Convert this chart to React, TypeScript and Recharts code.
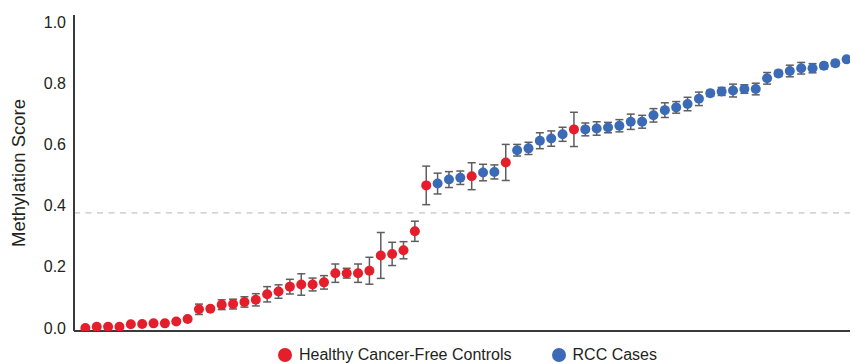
import React from 'react';
import {
  ScatterChart,
  Scatter,
  XAxis,
  YAxis,
  ErrorBar,
  ReferenceLine,
  Legend,
} from 'recharts';

// Samples ordered by methylation score (left to right)
const scores = [
  0.0, 0.004, 0.004, 0.004, 0.012, 0.013, 0.015, 0.015, 0.021, 0.029,
  0.061, 0.063, 0.076, 0.078, 0.085, 0.092, 0.11, 0.119, 0.135, 0.142,
  0.142, 0.149, 0.179, 0.179, 0.179, 0.187, 0.237, 0.242, 0.254, 0.316,
  0.466, 0.472, 0.485, 0.491, 0.496, 0.508, 0.51, 0.541, 0.581, 0.587,
  0.612, 0.619, 0.633, 0.649, 0.649, 0.652, 0.655, 0.661, 0.674, 0.674,
  0.695, 0.712, 0.721, 0.732, 0.749, 0.767, 0.773, 0.776, 0.781, 0.781,
  0.816, 0.832, 0.84, 0.849, 0.849, 0.857, 0.865, 0.878,
];

const errors = [
  0, 0, 0, 0, 0, 0, 0, 0, 0, 0,
  0.017, 0.006, 0.016, 0.016, 0.017, 0.02, 0.025, 0.022, 0.024, 0.035,
  0.021, 0.022, 0.03, 0.016, 0.03, 0.044, 0.075, 0.038, 0.028, 0.033,
  0.063, 0.034, 0.026, 0.022, 0.044, 0.027, 0.023, 0.059, 0.019, 0.02,
  0.026, 0.025, 0.023, 0.056, 0.021, 0.022, 0.017, 0.02, 0.025, 0.021,
  0.022, 0.024, 0.019, 0.022, 0.022, 0.01, 0.013, 0.021, 0.014, 0.019,
  0.019, 0.01, 0.019, 0.019, 0.015, 0.01, 0.01, 0,
];

// H = Healthy Cancer-Free Controls, R = RCC Cases
const groups = [
  'H', 'H', 'H', 'H', 'H', 'H', 'H', 'H', 'H', 'H',
  'H', 'H', 'H', 'H', 'H', 'H', 'H', 'H', 'H', 'H',
  'H', 'H', 'H', 'H', 'H', 'H', 'H', 'H', 'H', 'H',
  'H', 'R', 'R', 'R', 'H', 'R', 'R', 'H', 'R', 'R',
  'R', 'R', 'R', 'H', 'R', 'R', 'R', 'R', 'R', 'R',
  'R', 'R', 'R', 'R', 'R', 'R', 'R', 'R', 'R', 'R',
  'R', 'R', 'R', 'R', 'R', 'R', 'R', 'R',
];

const seriesNames = { H: 'Healthy Cancer-Free Controls', R: 'RCC Cases' };
const seriesColors = { H: '#e41e2b', R: '#3b6bb6' };
const yTicks = [0, 0.2, 0.4, 0.6, 0.8, 1.0];
const threshold = 0.376;

const rows = scores.map((v, i) => ({
  idx: i + 1,
  score: v,
  err: errors[i],
  group: groups[i],
}));
const healthy = rows.filter((r) => r.group === 'H');
const rcc = rows.filter((r) => r.group === 'R');

const dot = (color: string) => (props: any) => (
  <circle cx={props.cx} cy={props.cy} r={5} fill={color} />
);

const renderLegend = () => (
  <div
    style={{
      display: 'flex',
      alignItems: 'center',
      height: 18,
      paddingLeft: 270,
      fontSize: 16,
      color: '#231f20',
      whiteSpace: 'nowrap',
    }}
  >
    <span
      style={{
        width: 14,
        height: 14,
        borderRadius: '50%',
        background: seriesColors.H,
        marginRight: 7,
        display: 'inline-block',
      }}
    />
    <span>{seriesNames.H}</span>
    <span
      style={{
        width: 14,
        height: 14,
        borderRadius: '50%',
        background: seriesColors.R,
        marginLeft: 40,
        marginRight: 7,
        display: 'inline-block',
      }}
    />
    <span>{seriesNames.R}</span>
  </div>
);

export default function App() {
  return (
    <div style={{ fontFamily: '"Liberation Sans", Arial, Helvetica, sans-serif' }}>
      <ScatterChart
        width={850}
        height={356}
        margin={{ top: 7, right: 0, left: 0, bottom: 0 }}
      >
        <XAxis
          type="number"
          dataKey="idx"
          domain={[0, 69]}
          allowDataOverflow
          tick={false}
          tickLine={false}
          axisLine={{ stroke: '#3a3a3a', strokeWidth: 2 }}
          height={15}
        />
        <YAxis
          type="number"
          dataKey="score"
          domain={[-0.01, 1.023]}
          allowDataOverflow
          ticks={yTicks}
          tickFormatter={(v: number) => v.toFixed(1)}
          tickLine={false}
          axisLine={{ stroke: '#3a3a3a', strokeWidth: 2 }}
          tick={{ fill: '#231f20', fontSize: 16 }}
          width={66}
          label={{
            value: 'Methylation Score',
            angle: -90,
            position: 'insideLeft',
            offset: 10,
            style: { textAnchor: 'middle', fill: '#231f20', fontSize: 18.5 },
          }}
        />
        <ReferenceLine
          y={threshold}
          stroke="#c4c4c4"
          strokeWidth={1.3}
          strokeDasharray="6 5.5"
        />
        <Scatter
          name={seriesNames.H}
          data={healthy}
          fill={seriesColors.H}
          shape={dot(seriesColors.H)}
          isAnimationActive={false}
        >
          <ErrorBar dataKey="err" direction="y" width={4} stroke="#5e5e5e" strokeWidth={1.5} />
        </Scatter>
        <Scatter
          name={seriesNames.R}
          data={rcc}
          fill={seriesColors.R}
          shape={dot(seriesColors.R)}
          isAnimationActive={false}
        >
          <ErrorBar dataKey="err" direction="y" width={4} stroke="#5e5e5e" strokeWidth={1.5} />
        </Scatter>
        <Legend verticalAlign="bottom" align="left" content={renderLegend} wrapperStyle={{ height: 18 }} />
      </ScatterChart>
    </div>
  );
}
